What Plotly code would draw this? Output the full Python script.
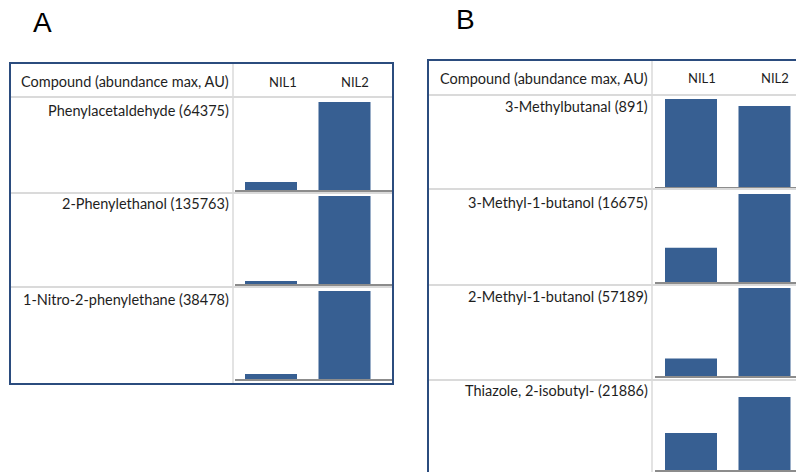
import plotly.graph_objects as go

# ---- data (bar heights are relative to each compound's maximum abundance) ----
groups = ["NIL1", "NIL2"]

compounds_a = ["Phenylacetaldehyde", "2-Phenylethanol", "1-Nitro-2-phenylethane"]
abund_max_a = [64375, 135763, 38478]
nil1_a = [0.09, 0.034, 0.057]
nil2_a = [1.0, 1.0, 1.0]

compounds_b = ["3-Methylbutanal", "3-Methyl-1-butanol", "2-Methyl-1-butanol", "Thiazole, 2-isobutyl-"]
abund_max_b = [891, 16675, 57189, 21886]
nil1_b = [1.0, 0.39, 0.20, 0.42]
nil2_b = [0.92, 1.0, 1.0, 0.83]

header_text = "Compound (abundance max, AU)"

# ---- layout helpers (pixel -> paper) ----
W, H = 796, 472
def px(x):
    return x / W
def py(y):
    return 1 - y / H

BAR = "#375f92"
FRAME = "#2b4c7e"
GRID = "#dadada"
AXLINE = "#8c8c8c"
TXT = "#1e1e1e"
FONT = "Lato, Open Sans, sans-serif"
FS = 14.5

fig = go.Figure()
shapes = []
annotations = []

def panel(letter, letter_xy, frame, divider_x, header_y, sep_ys, label_x,
          bar_x1, nil1_center, spacing, baselines, row_h,
          names, maxima, v1, v2, col_x, axis_start):
    fx0, fy0, fx1, fy1 = frame
    # panel letter
    annotations.append(dict(x=px(letter_xy[0]), y=py(letter_xy[1]), xref="paper", yref="paper",
                            text=letter, showarrow=False, xanchor="left", yanchor="middle",
                            font=dict(family="Liberation Sans, Arial", size=28, color="#000")))
    # grey row separators and column divider
    for sy in sep_ys:
        shapes.append(dict(type="line", xref="paper", yref="paper", x0=px(fx0), x1=px(min(fx1, W)),
                           y0=py(sy), y1=py(sy), line=dict(color=GRID, width=2)))
    shapes.append(dict(type="line", xref="paper", yref="paper", x0=px(divider_x), x1=px(divider_x),
                       y0=py(fy0), y1=py(min(fy1, H)), line=dict(color=GRID, width=1.5)))
    # outer frame
    shapes.append(dict(type="rect", xref="paper", yref="paper", x0=px(fx0), x1=px(fx1),
                       y0=py(fy1), y1=py(fy0), line=dict(color=FRAME, width=2)))
    # header
    annotations.append(dict(x=px(label_x), y=py(header_y), xref="paper", yref="paper",
                            text=header_text, showarrow=False, xanchor="right", yanchor="middle",
                            font=dict(family=FONT, size=FS, color=TXT)))
    for g, cx in zip(groups, col_x):
        annotations.append(dict(x=px(cx), y=py(header_y), xref="paper", yref="paper",
                                text=g, showarrow=False, xanchor="center", yanchor="middle",
                                font=dict(family=FONT, size=FS - 1.5, color=TXT)))
    # one small bar chart per compound row
    for i, (n, m, a, b, base) in enumerate(zip(names, maxima, v1, v2, baselines)):
        k = len(fig.data) + 1
        xa = "x" if k == 1 else f"x{k}"
        ya = "y" if k == 1 else f"y{k}"
        fig.add_trace(go.Bar(x=groups, y=[a, b], marker=dict(color=BAR, line=dict(width=0)),
                             xaxis=xa, yaxis=ya, showlegend=False, width=52 / spacing))
        r0 = (axis_start - nil1_center) / spacing
        r1 = (bar_x1 - nil1_center) / spacing
        fig.update_layout(**{
            ("xaxis" if k == 1 else f"xaxis{k}"): dict(
                domain=[px(axis_start), px(bar_x1)], range=[r0, r1], anchor=ya,
                showticklabels=False, ticks="", showgrid=False, zeroline=False,
                showline=True, linecolor=AXLINE, linewidth=1.5, fixedrange=True),
            ("yaxis" if k == 1 else f"yaxis{k}"): dict(
                domain=[max(py(base), 0), py(base - row_h)], range=[0, 1], anchor=xa,
                showticklabels=False, ticks="", showgrid=False, zeroline=False,
                showline=False, fixedrange=True),
        })
        annotations.append(dict(x=px(label_x), y=py(base - row_h + 8), xref="paper", yref="paper",
                                text=f"{n} ({m})", showarrow=False, xanchor="right", yanchor="middle",
                                font=dict(family=FONT, size=FS, color=TXT)))

panel("A", (31, 23), (10, 63, 393, 384), 233, 82, [97, 193, 287], 231,
      393, 271, 73.5, [190, 284, 379], 88,
      compounds_a, abund_max_a, nil1_a, nil2_a, [283, 355], 235)

panel("B", (454, 19), (428, 60, 800, 480), 652, 78, [95, 189, 285, 380], 650,
      796, 691, 73.5, [187, 282, 376, 470], 88,
      compounds_b, abund_max_b, nil1_b, nil2_b, [702, 775], 655)

fig.update_layout(width=W, height=H, margin=dict(l=0, r=0, t=0, b=0),
                  paper_bgcolor="white", plot_bgcolor="rgba(0,0,0,0)",
                  shapes=shapes, annotations=annotations, bargap=0.29)

fig.write_html("out.html")
